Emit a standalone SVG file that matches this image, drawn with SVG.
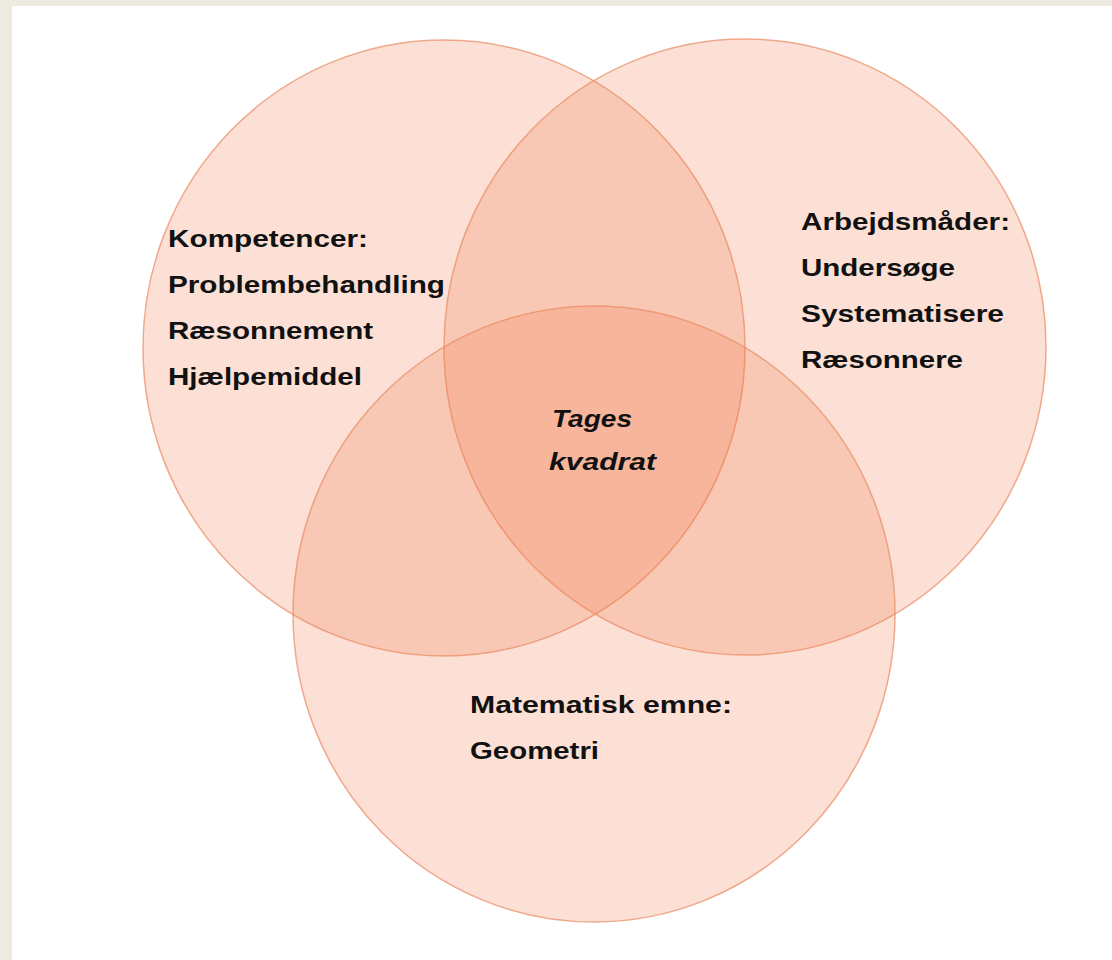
<svg xmlns="http://www.w3.org/2000/svg" width="1112" height="960" viewBox="0 0 1112 960">
<style>
.c{fill:#f07848;fill-opacity:0.23;stroke:#e98a62;stroke-opacity:0.7;stroke-width:1.5}
.t{font-family:"Liberation Sans",Arial,sans-serif;font-weight:bold;font-size:23px;fill:#111}
.i{font-style:italic}
</style>
<rect x="0" y="0" width="1112" height="960" fill="#edeadf"/>
<rect x="12" y="6" width="1100" height="954" fill="#ffffff"/>
<g id="circle-kompetencer"><ellipse class="c" cx="444" cy="348" rx="301" ry="308"/></g>
<g id="circle-arbejdsmaader"><ellipse class="c" cx="745" cy="347" rx="301" ry="308"/></g>
<g id="circle-emne"><ellipse class="c" cx="594" cy="614" rx="301" ry="308"/></g>
<g id="connectors"></g>
<g id="label-kompetencer">
<text class="t" x="168" y="247" textLength="200" lengthAdjust="spacingAndGlyphs">Kompetencer:</text>
<text class="t" x="168" y="293" textLength="277" lengthAdjust="spacingAndGlyphs">Problembehandling</text>
<text class="t" x="168" y="339" textLength="205" lengthAdjust="spacingAndGlyphs">Ræsonnement</text>
<text class="t" x="168" y="385" textLength="194" lengthAdjust="spacingAndGlyphs">Hjælpemiddel</text>
</g>
<g id="label-arbejdsmaader">
<text class="t" x="801" y="230" textLength="209" lengthAdjust="spacingAndGlyphs">Arbejdsmåder:</text>
<text class="t" x="801" y="276" textLength="154" lengthAdjust="spacingAndGlyphs">Undersøge</text>
<text class="t" x="801" y="322" textLength="203" lengthAdjust="spacingAndGlyphs">Systematisere</text>
<text class="t" x="801" y="368" textLength="162" lengthAdjust="spacingAndGlyphs">Ræsonnere</text>
</g>
<g id="label-center">
<text class="t i" x="552" y="427" textLength="80" lengthAdjust="spacingAndGlyphs">Tages</text>
<text class="t i" x="549" y="470" textLength="107" lengthAdjust="spacingAndGlyphs">kvadrat</text>
</g>
<g id="label-emne">
<text class="t" x="470" y="713" textLength="262" lengthAdjust="spacingAndGlyphs">Matematisk emne:</text>
<text class="t" x="470" y="759" textLength="129" lengthAdjust="spacingAndGlyphs">Geometri</text>
</g>
</svg>
